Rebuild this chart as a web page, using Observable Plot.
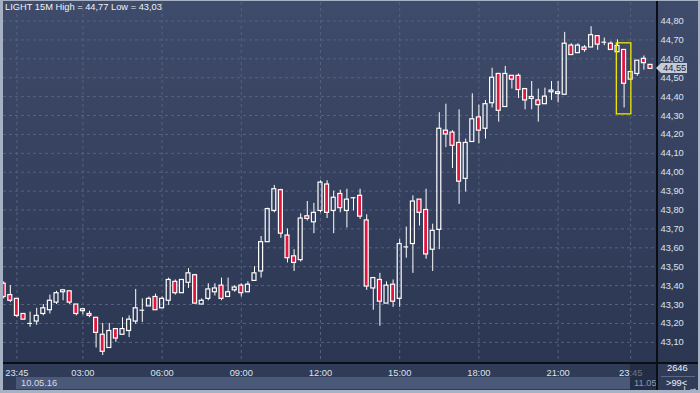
<!DOCTYPE html>
<html><head><meta charset="utf-8">
<script src="https://cdn.jsdelivr.net/npm/d3@7"></script>
<script src="https://cdn.jsdelivr.net/npm/@observablehq/plot@0.6"></script>
<style>
html,body{margin:0;padding:0;background:#2f3b57;}
#wrap{position:relative;width:700px;height:393px;overflow:hidden;font-family:"Liberation Sans",Arial,sans-serif;
 background:linear-gradient(to bottom,#3f4b6a 0px,#2b3652 363px,#2f3b57 363px,#2f3b57 393px);}
#wrap svg{position:absolute;left:0;top:0;}
.ov{position:absolute;font-size:9.3px;line-height:11px;white-space:nowrap;}
</style></head>
<body><div id="wrap"></div>
<script>
const titleText = "LIGHT 15M High = 44,77 Low = 43,03";
const open  = [43.41,43.35,43.33,43.25,43.20,43.21,43.25,43.27,43.31,43.365,43.37,43.30,43.265,43.25,43.23,43.14,43.07,43.17,43.14,43.16,
               43.21,43.27,43.29,43.34,43.28,43.32,43.42,43.36,43.415,43.455,43.30,43.33,43.365,43.40,43.34,43.375,43.40,43.365,43.425,43.475,
               43.63,43.795,43.905,43.665,43.555,43.535,43.767,43.735,43.795,43.935,43.795,43.885,43.795,43.865,43.875,43.745,43.385,43.43,43.305,43.405,
               43.33,43.605,43.62,43.855,43.80,43.59,43.695,44.22,44.21,44.155,43.965,44.16,44.29,44.23,44.365,44.52,44.345,44.51,44.51,44.44,
               44.388,44.38,44.36,44.423,44.414,44.41,44.67,44.63,44.66,44.66,44.72,44.688,44.68,44.635,44.647,44.49,44.52,44.60,44.568];
const high  = [43.42,43.40,43.33,43.25,43.26,43.28,43.30,43.35,43.37,43.38,43.37,43.30,43.28,43.265,43.23,43.20,43.20,43.17,43.23,43.24,
               43.38,43.33,43.34,43.355,43.34,43.44,43.43,43.43,43.49,43.46,43.33,43.41,43.41,43.44,43.44,43.40,43.41,43.42,43.50,43.66,
               43.81,43.93,43.91,43.70,43.59,43.78,43.845,43.835,43.955,43.955,43.90,43.905,43.91,43.865,43.91,43.775,43.44,43.465,43.42,43.43,
               43.645,43.71,43.875,43.855,43.91,43.725,44.315,44.36,44.22,44.33,44.175,44.415,44.355,44.38,44.55,44.52,44.56,44.51,44.52,44.44,
               44.48,44.44,44.445,44.48,44.48,44.74,44.68,44.68,44.67,44.77,44.72,44.71,44.69,44.70,44.647,44.53,44.59,44.615,44.568];
const low   = [43.33,43.31,43.23,43.22,43.18,43.19,43.24,43.25,43.30,43.32,43.30,43.24,43.245,43.23,43.07,43.03,43.07,43.10,43.14,43.125,
               43.195,43.205,43.29,43.27,43.28,43.295,43.35,43.36,43.385,43.30,43.30,43.32,43.345,43.32,43.34,43.365,43.34,43.365,43.425,43.44,
               43.63,43.785,43.65,43.52,43.475,43.525,43.742,43.675,43.785,43.755,43.675,43.785,43.705,43.795,43.75,43.375,43.27,43.185,43.305,43.285,
               43.285,43.545,43.465,43.715,43.54,43.475,43.59,44.13,44.02,43.83,43.895,44.16,44.15,44.175,44.34,44.265,44.345,44.44,44.39,44.33,
               44.33,44.265,44.36,44.38,44.367,44.41,44.62,44.63,44.635,44.66,44.645,44.67,44.647,44.635,44.34,44.49,44.507,44.54,44.547];
const close = [43.34,43.32,43.24,43.22,43.20,43.24,43.28,43.32,43.36,43.375,43.31,43.25,43.275,43.24,43.15,43.05,43.16,43.12,43.17,43.22,
               43.28,43.27,43.33,43.27,43.33,43.43,43.36,43.43,43.465,43.305,43.32,43.38,43.385,43.33,43.365,43.39,43.36,43.405,43.465,43.63,
               43.805,43.91,43.675,43.545,43.52,43.755,43.753,43.785,43.945,43.785,43.865,43.81,43.855,43.865,43.765,43.395,43.44,43.315,43.40,43.315,
               43.62,43.605,43.845,43.785,43.565,43.69,44.23,44.20,44.14,43.95,44.155,44.28,44.22,44.36,44.50,44.325,44.52,44.49,44.435,44.38,
               44.398,44.355,44.40,44.432,44.423,44.68,44.62,44.67,44.647,44.725,44.675,44.688,44.647,44.668,44.468,44.53,44.59,44.577,44.547];
const priceTicks = [43.10,43.20,43.30,43.40,43.50,43.60,43.70,43.80,43.90,44.00,44.10,44.20,44.30,44.40,44.50,44.60,44.70,44.80];
const tickIndex  = [2,12,24,36,48,60,72,84,95];
const tickLabels = ["23:45","03:00","06:00","09:00","12:00","15:00","18:00","21:00","23:45"];
const dateLabel = "10.05.16";
const nextDateLabel = "11.05";
const barCountLabel = "2646";
const zoomLabel = ">99<";
const highlightIndex = 94;

const RED = "#e0163e";
const GRID = "#56627f";
const candles = open.map((o, i) => ({i, o, h: high[i], l: low[i], c: close[i]}));
const bodies = candles.filter(d => d.o !== d.c);
const dojis = candles.filter(d => d.o === d.c);
const fmt = v => v.toFixed(2).replace(".", ",");

const chart = Plot.plot({
  width: 700, height: 393,
  marginLeft: 3, marginRight: 44, marginTop: 2, marginBottom: 30,
  x: {type: "linear", domain: [-0.03, 98.91], axis: null},
  y: {domain: [42.988, 44.898], axis: null},
  style: {background: "transparent", fontFamily: "'Liberation Sans', Arial, sans-serif", fontSize: "9.3px", color: "#dde4ef", overflow: "visible"},
  marks: [
    Plot.gridY(priceTicks, {stroke: GRID, strokeOpacity: 1, strokeDasharray: "3,3"}),
    Plot.gridX(tickIndex, {stroke: GRID, strokeOpacity: 1, strokeDasharray: "3,3"}),
    Plot.ruleX(candles, {x: "i", y1: d => Math.max(d.o, d.c), y2: "h", stroke: "white", strokeWidth: 1, clip: true}),
    Plot.ruleX(candles, {x: "i", y1: "l", y2: d => Math.min(d.o, d.c), stroke: "white", strokeWidth: 1, clip: true}),
    Plot.rect(bodies.filter(d => d.c > d.o), {x1: d => d.i - 0.3, x2: d => d.i + 0.3, y1: "o", y2: "c", fill: "none", stroke: "white", strokeWidth: 1.2, clip: true}),
    Plot.rect(bodies.filter(d => d.c < d.o), {x1: d => d.i - 0.3, x2: d => d.i + 0.3, y1: "o", y2: "c", fill: RED, stroke: "white", strokeWidth: 1.2, clip: true}),
    Plot.ruleY(dojis, {x1: d => d.i - 0.36, x2: d => d.i + 0.36, y: "c", stroke: "white", strokeWidth: 1.2, clip: true}),
    Plot.rect([candles[highlightIndex]], {x1: d => d.i - 1.1, x2: d => d.i + 1.1, y1: d => d.h + 0.035, y2: d => d.l - 0.034, fill: "none", stroke: "#f0e800", strokeWidth: 1.3}),
    Plot.axisY(priceTicks, {anchor: "right", tickSize: 0, tickPadding: 4, tickFormat: fmt, fill: "#dde4ef", fontSize: 9.3}),
    Plot.axisX(tickIndex, {anchor: "bottom", tickSize: 0, tickPadding: 6, tickFormat: d => tickLabels[tickIndex.indexOf(d)], fill: "#dde4ef", fontSize: 9.3})
  ]
});

const wrap = document.getElementById("wrap");
wrap.appendChild(chart);

function ov(text, css) {
  const d = document.createElement("div");
  d.className = "ov";
  d.textContent = text;
  d.setAttribute("style", css);
  wrap.appendChild(d);
  return d;
}
// title
ov(titleText, "left:5px;top:2px;color:#eef2f8;");
// date band
ov(dateLabel, "left:16px;top:377px;width:609px;height:12px;line-height:12px;padding-left:5px;background:#4b5979;color:#d6dde9;");
// dim overlay for next-day region
ov("", "left:630px;top:364px;width:26px;height:26px;background:rgba(28,36,56,0.6);");
ov(nextDateLabel, "left:634px;top:378px;height:11px;color:#8e99ab;");
// black separator lines
ov("", "left:0;top:362px;width:700px;height:1.5px;background:#0a0e16;");
ov("", "left:656px;top:0;width:1.5px;height:393px;background:#0a0e16;");
// right bottom box
ov(barCountLabel, "left:667px;top:363px;height:11px;color:#eef2f8;");
ov("", "left:661px;top:376px;width:34px;height:1px;background:#5d6a86;");
ov(zoomLabel, "left:666px;top:378px;height:11px;color:#eef2f8;");
// last price tag (positioned through the chart's y scale)
const last = close[close.length - 1];
const yPx = chart.scale("y").apply(last);
ov(fmt(last), `left:661px;top:${(yPx - 5).toFixed(1)}px;height:10px;line-height:10px;width:24px;padding-left:2px;background:#c4cbd7;color:#1c2333;`);
ov("", `left:656px;top:${(yPx - 5).toFixed(1)}px;width:0;height:0;border-top:5px solid transparent;border-bottom:5px solid transparent;border-right:5px solid #c4cbd7;`);
// outer border
ov("", "left:0;top:0;width:700px;height:393px;box-sizing:border-box;border-style:solid;border-color:#a6b1c3;border-width:1px 2px 3px 3px;");
</script>
</body></html>
